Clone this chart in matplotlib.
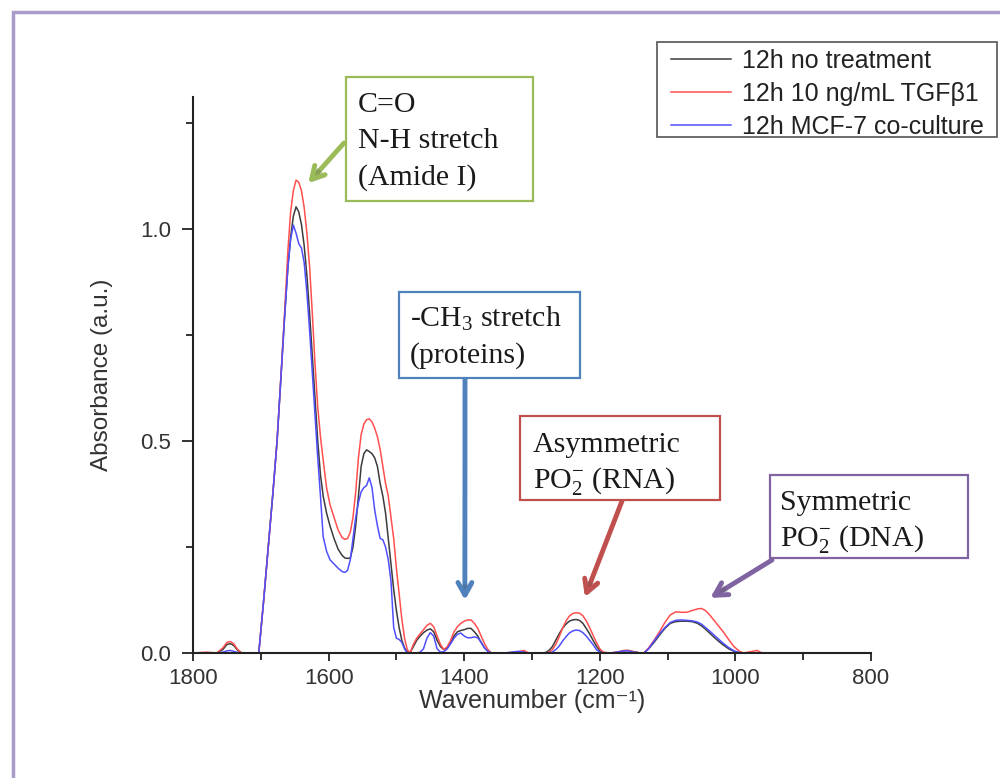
import matplotlib
matplotlib.use('Agg')
import matplotlib.pyplot as plt
import matplotlib.patches as patches
import matplotlib.patheffects as pe
from matplotlib.ticker import MultipleLocator

plt.rcParams['mathtext.fontset'] = 'custom'
plt.rcParams['mathtext.rm'] = 'Liberation Serif'
plt.rcParams['mathtext.it'] = 'Liberation Serif:italic'

# FTIR spectra, 12h samples (wavenumber in cm-1, absorbance in a.u.)
wavenumber = [1800, 1780, 1765, 1756, 1750, 1745, 1740, 1734, 1728, 1710,
              1703, 1696, 1689, 1682, 1676, 1670, 1665, 1660, 1656, 1652,
              1648, 1644, 1640, 1636, 1632, 1628, 1624, 1620, 1616, 1612,
              1608, 1603, 1598, 1592, 1586, 1580, 1576, 1572, 1568, 1564,
              1560, 1556, 1552, 1548, 1544, 1540, 1536, 1532, 1528, 1524,
              1520, 1516, 1512, 1508, 1504, 1500, 1496, 1492, 1488, 1484,
              1480, 1475, 1470, 1465, 1460, 1455, 1450, 1445, 1440, 1435,
              1430, 1425, 1420, 1415, 1410, 1405, 1400, 1395, 1390, 1385,
              1380, 1375, 1370, 1365, 1360, 1340, 1320, 1312, 1305, 1290,
              1280, 1275, 1270, 1265, 1260, 1255, 1250, 1245, 1240, 1235,
              1230, 1225, 1220, 1215, 1210, 1205, 1200, 1195, 1185, 1175,
              1165, 1158, 1150, 1140, 1135, 1128, 1120, 1112, 1104, 1096,
              1088, 1080, 1072, 1064, 1056, 1050, 1044, 1038, 1032, 1025,
              1018, 1010, 1002, 994, 988, 975, 968, 962, 950, 900,
              850, 800]

abs_control = [0, 0, 0, 0.008, 0.02, 0.022, 0.018, 0.006, 0, 0,
               0, 0.12, 0.25, 0.38, 0.50, 0.66, 0.79, 0.91, 0.98, 1.03,
               1.052, 1.04, 1.01, 0.96, 0.89, 0.80, 0.70, 0.60, 0.50, 0.42,
               0.37, 0.33, 0.30, 0.27, 0.245, 0.23, 0.224, 0.223, 0.224, 0.25,
               0.30, 0.37, 0.44, 0.47, 0.479, 0.475, 0.47, 0.46, 0.44, 0.40,
               0.37, 0.33, 0.27, 0.21, 0.15, 0.10, 0.06, 0.03, 0.012, 0.002,
               0, 0.015, 0.03, 0.04, 0.048, 0.054, 0.057, 0.05, 0.03, 0.015,
               0.008, 0.012, 0.025, 0.04, 0.05, 0.053, 0.055, 0.058, 0.058, 0.05,
               0.04, 0.025, 0.012, 0.004, 0, 0, 0, 0.002, 0, 0,
               0.001, 0.006, 0.015, 0.03, 0.045, 0.058, 0.068, 0.075, 0.078, 0.079,
               0.077, 0.07, 0.058, 0.045, 0.03, 0.016, 0.005, 0, 0, 0.001,
               0.005, 0.006, 0.003, 0, 0, 0.01, 0.025, 0.042, 0.058, 0.07,
               0.074, 0.075, 0.075, 0.074, 0.07, 0.064, 0.056, 0.047, 0.038, 0.028,
               0.019, 0.01, 0.004, 0, 0, 0, 0, 0, 0, 0,
               0, 0]

abs_tgfb1 = [0, 0.002, 0, 0.012, 0.025, 0.027, 0.022, 0.008, 0, 0,
             0, 0.12, 0.25, 0.38, 0.50, 0.66, 0.80, 0.95, 1.04, 1.09,
             1.115, 1.11, 1.09, 1.05, 0.99, 0.91, 0.80, 0.68, 0.58, 0.51,
             0.455, 0.39, 0.35, 0.32, 0.29, 0.272, 0.268, 0.27, 0.285, 0.32,
             0.38, 0.46, 0.515, 0.54, 0.55, 0.552, 0.545, 0.53, 0.51, 0.48,
             0.44, 0.40, 0.37, 0.32, 0.27, 0.20, 0.14, 0.08, 0.035, 0.008,
             0, 0.02, 0.035, 0.045, 0.055, 0.065, 0.07, 0.062, 0.04, 0.02,
             0.008, 0.015, 0.03, 0.05, 0.062, 0.07, 0.075, 0.078, 0.078, 0.07,
             0.058, 0.04, 0.022, 0.008, 0, 0, 0.003, 0.006, 0, 0,
             0, 0.002, 0.008, 0.02, 0.038, 0.058, 0.075, 0.087, 0.093, 0.095,
             0.094, 0.088, 0.076, 0.06, 0.042, 0.025, 0.01, 0.002, 0, 0.002,
             0.006, 0.006, 0.003, 0, 0, 0.012, 0.03, 0.05, 0.072, 0.09,
             0.097, 0.096, 0.096, 0.10, 0.104, 0.105, 0.10, 0.09, 0.078, 0.064,
             0.05, 0.032, 0.015, 0.004, 0, 0.004, 0.006, 0.001, 0, 0,
             0, 0]

abs_mcf7 = [0, 0, 0, 0.002, 0.005, 0.006, 0.004, 0.001, 0, 0,
            0, 0.12, 0.25, 0.38, 0.50, 0.66, 0.79, 0.91, 0.975, 1.009,
            0.99, 0.965, 0.955, 0.92, 0.85, 0.76, 0.66, 0.56, 0.46, 0.37,
            0.274, 0.24, 0.22, 0.21, 0.20, 0.192, 0.19, 0.195, 0.22, 0.27,
            0.32, 0.355, 0.38, 0.39, 0.395, 0.413, 0.39, 0.337, 0.30, 0.27,
            0.267, 0.25, 0.22, 0.17, 0.06, 0.035, 0.032, 0.025, 0.01, 0,
            0, 0, 0, 0.002, 0.01, 0.035, 0.048, 0.04, 0.01, 0.002,
            0.003, 0.01, 0.022, 0.035, 0.044, 0.047, 0.04, 0.036, 0.036, 0.038,
            0.036, 0.025, 0.012, 0.004, 0, 0, 0.004, 0.002, 0, 0,
            0, 0, 0.002, 0.008, 0.016, 0.028, 0.038, 0.047, 0.052, 0.054,
            0.053, 0.048, 0.04, 0.03, 0.02, 0.008, 0.002, 0, 0, 0.002,
            0.005, 0.005, 0.002, 0, 0, 0.01, 0.028, 0.045, 0.06, 0.072,
            0.077, 0.078, 0.077, 0.076, 0.073, 0.068, 0.06, 0.052, 0.043, 0.033,
            0.023, 0.013, 0.005, 0.001, 0, 0, 0, 0, 0, 0,
            0, 0]

series = [(abs_control, '#3c3c3c', '12h no treatment'),
          (abs_tgfb1, '#ff4f4f', '12h 10 ng/mL TGF\u03b21'),
          (abs_mcf7, '#4f4fff', '12h MCF-7 co-culture')]

W, H = 1000, 778


def fx(px):
    return px / W


def fy(py):
    return 1 - py / H


fig = plt.figure(figsize=(10, 7.78), dpi=100)
fig.patch.set_facecolor('white')

# slide border
fig.patches.append(patches.Rectangle((fx(13), fy(830)), 1.2, fy(12) - fy(830),
                                     transform=fig.transFigure, fill=False,
                                     edgecolor='#a99cc9', linewidth=2.5))

ax = fig.add_axes([fx(193), fy(653), fx(871) - fx(193), fy(97) - fy(653)])

for vals, col, lab in series:
    ax.plot(wavenumber, vals, color=col, lw=1.1, label=lab, clip_on=False)

ax.set_xlim(1800, 800)
ax.set_ylim(0, 1.311)
for s in ['top', 'right']:
    ax.spines[s].set_visible(False)
for s in ['left', 'bottom']:
    ax.spines[s].set_linewidth(1.5)
    ax.spines[s].set_color('#222222')

ax.xaxis.set_major_locator(MultipleLocator(200))
ax.xaxis.set_minor_locator(MultipleLocator(100))
ax.yaxis.set_major_locator(MultipleLocator(0.5))
ax.yaxis.set_minor_locator(MultipleLocator(0.25))
ax.yaxis.set_major_formatter(matplotlib.ticker.FormatStrFormatter('%.1f'))
ax.tick_params(which='major', direction='out', width=1.3,
               colors='#222222', labelcolor='#333333', labelsize=16)
ax.tick_params(axis='x', which='major', length=6, pad=5)
ax.tick_params(axis='y', which='major', length=8, pad=8)
ax.tick_params(which='minor', direction='out', length=5, width=1.3, colors='#222222')
for lbl in ax.get_xticklabels() + ax.get_yticklabels():
    lbl.set_family('Liberation Sans')

ax.set_xlabel('Wavenumber (cm\u207b\u00b9)', fontsize=18, color='#333333',
              family=['Liberation Sans', 'DejaVu Sans'], labelpad=0)
ax.set_ylabel('Absorbance (a.u.)', fontsize=17.5, color='#333333',
              family='Liberation Sans', labelpad=19)

# legend frame drawn separately so the padding can be set per side
fig.patches.append(patches.Rectangle((fx(657), fy(137)), fx(997) - fx(657), fy(42) - fy(137),
                                     transform=fig.transFigure, facecolor='white',
                                     edgecolor='#555555', linewidth=1.2, zorder=3))
handles, labels = ax.get_legend_handles_labels()
leg = fig.legend(handles, labels, loc='upper right', bbox_to_anchor=(fx(988), fy(45)),
                 frameon=False, prop={'family': 'Liberation Sans', 'size': 18},
                 handlelength=2.4, handletextpad=0.45, labelspacing=0.36,
                 borderpad=0.15, borderaxespad=0)
leg.set_zorder(5)
for t in leg.get_texts():
    t.set_color('#222222')

# band annotation boxes: (left, top, right, bottom) in pixels, text lines with baselines
notes = [
    ('#9bbb59', (346, 77, 533, 201), 358,
     [('C=O', 112), ('N-H stretch', 148), ('(Amide I)', 185)],
     (344, 143), (1630, 1.108)),
    ('#4f81bd', (399, 292, 580, 378), 410,
     [('-CH$_3$ stretch', 327), ('(proteins)', 363)],
     (465, 378), (1399, 0.125)),
    ('#c0504d', (520, 416, 720, 500), 533,
     [('Asymmetric', 452), ('PO$_2^{-}$ (RNA)', 488)],
     (622, 501), (1222, 0.132)),
    ('#8064a2', (770, 475, 968, 558), 780,
     [('Symmetric', 510), ('PO$_2^{-}$ (DNA)', 546)],
     (772, 560), (1037, 0.13)),
]

for col, (l, t, r, b), tx, lines, tail, head in notes:
    fig.patches.append(patches.Rectangle((fx(l), fy(b)), fx(r) - fx(l), fy(t) - fy(b),
                                         transform=fig.transFigure, facecolor='white',
                                         edgecolor=col, linewidth=1.6, zorder=3))
    for s, base in lines:
        fig.text(fx(tx), fy(base), s, fontsize=21.5, family='Liberation Serif',
                 color='#1a1a1a', va='baseline', ha='left', zorder=4)
    ann = ax.annotate('', xy=head, xycoords='data',
                      xytext=(fx(tail[0]), fy(tail[1])), textcoords='figure fraction',
                      arrowprops=dict(arrowstyle='->, head_length=0.45, head_width=0.25',
                                      color=col, lw=3.5, shrinkA=0, shrinkB=0,
                                      mutation_scale=20, capstyle='round'),
                      annotation_clip=False)
    ann.arrow_patch.set_path_effects([pe.SimplePatchShadow(offset=(1.5, -1.5), alpha=0.25),
                                      pe.Normal()])

fig.savefig('out.png', dpi=100)
